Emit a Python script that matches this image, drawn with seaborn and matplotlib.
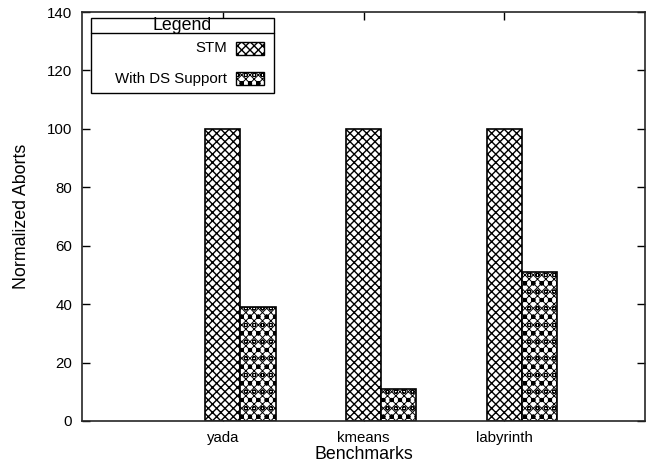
import matplotlib
matplotlib.use("Agg")
import matplotlib.pyplot as plt
from matplotlib.lines import Line2D
from matplotlib.patches import Rectangle
import seaborn as sns
import pandas as pd

# Normalized abort counts per benchmark
benchmarks = ["yada", "kmeans", "labyrinth"]
series_names = ["STM", "With DS Support"]
stm_aborts = [100, 100, 100]
ds_aborts = [39, 11, 51]
hatches = ["xxxx", "xxxxoo"]
hatch_widths = [1.0, 0.7]

df = pd.DataFrame({
    "Benchmark": benchmarks * 2,
    "Series": [series_names[0]] * len(benchmarks) + [series_names[1]] * len(benchmarks),
    "Aborts": stm_aborts + ds_aborts,
})

sns.set_style("ticks")
plt.rcParams["font.family"] = ["Liberation Sans", "DejaVu Sans"]
plt.rcParams["hatch.linewidth"] = 1.0
for key in ("text.color", "axes.labelcolor", "xtick.color", "ytick.color"):
    plt.rcParams[key] = "black"


def style_hatch(patch, hatch, lw):
    patch.set_hatch(hatch)
    try:
        patch.set_hatch_linewidth(lw)
    except AttributeError:
        pass


W, H = 649, 468
fig = plt.figure(figsize=(W / 100, H / 100), dpi=100)
ax = fig.add_axes([82 / W, 1 - 421 / H, (645 - 82) / W, (421 - 12) / H])

sns.barplot(data=df, x="Benchmark", y="Aborts", hue="Series",
            hue_order=series_names, order=benchmarks,
            palette=["white", "white"], saturation=1, width=0.5,
            edgecolor="black", linewidth=1.2, legend=False, ax=ax)

for cont, h, hw in zip(ax.containers, hatches, hatch_widths):
    for bar in cont:
        style_hatch(bar, h, hw)

ax.set_axisbelow(True)
ax.set_ylim(0, 140)
ax.set_yticks(range(0, 141, 20))
ax.set_xlim(-1.125, 2.875)
ax.set_xticks([i - 0.125 for i in range(len(benchmarks))])
ax.set_xticklabels(benchmarks)
ax.tick_params(axis="both", direction="in", length=6, width=1,
               labelsize=10.8, top=True, right=True, pad=7)
for s in ax.spines.values():
    s.set_visible(True)
    s.set_linewidth(1.2)
ax.set_xlabel("Benchmarks", fontsize=12.8, labelpad=1)
ax.set_ylabel("Normalized Aborts", fontsize=12.8, labelpad=12)


# Legend box, laid out in figure pixels (origin at top-left)
def fx(px):
    return px / W


def fy(py):
    return 1 - py / H


box_l, box_r, box_t, box_b = 91, 274, 18, 93
fig.add_artist(Rectangle((fx(box_l), fy(box_b)), fx(box_r) - fx(box_l),
                         fy(box_t) - fy(box_b), transform=fig.transFigure,
                         facecolor="white", edgecolor="black", linewidth=1.0,
                         zorder=5))
fig.add_artist(Line2D([fx(box_l), fx(box_r)], [fy(33), fy(33)],
                      transform=fig.transFigure, color="black",
                      linewidth=1.0, zorder=6))
fig.text(fx((box_l + box_r) / 2), fy(26), "Legend", ha="center",
         va="center", fontsize=12.8, zorder=6)
for name, h, hw, row_y in zip(series_names, hatches, hatch_widths, [48.5, 78.5]):
    fig.text(fx(227), fy(row_y), name, ha="right", va="center",
             fontsize=10.8, zorder=6)
    swatch = Rectangle((fx(236), fy(row_y + 6.5)), fx(264) - fx(236),
                       fy(row_y - 6.5) - fy(row_y + 6.5),
                       transform=fig.transFigure, facecolor="white",
                       edgecolor="black", linewidth=1.0, zorder=6)
    style_hatch(swatch, h, hw)
    fig.add_artist(swatch)

fig.savefig("out.png", dpi=100)
